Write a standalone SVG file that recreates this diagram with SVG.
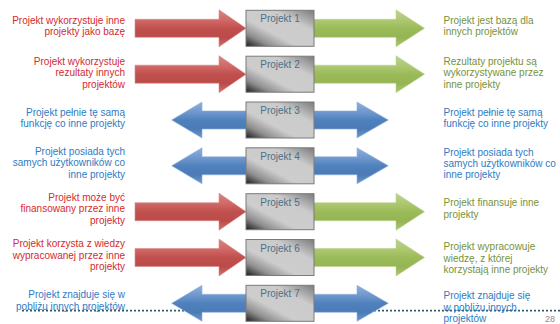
<svg xmlns="http://www.w3.org/2000/svg" width="560" height="324" viewBox="0 0 560 324">
<style>
  text { font-family: "Liberation Sans", Arial, sans-serif; font-size: 10px; }
  .lr { fill: #d42a2e; text-anchor: end; }
  .lb { fill: #2e7bc4; text-anchor: end; }
  .rg { fill: #76923c; }
  .rb { fill: #2e7bc4; }
  .box { fill: url(#gBox); stroke: #7a7a7a; stroke-width: 1; }
  .bl { fill: #4d6f88; text-anchor: middle; }
  .ar-r { fill: url(#gRed); stroke: #d98b89; stroke-width: 0.6; }
  .ar-g { fill: url(#gGreen); stroke: #bcd38f; stroke-width: 0.6; }
  .ar-b { fill: url(#gBlue); stroke: #8fb0da; stroke-width: 0.6; }
  .dots { stroke: #2e5b6e; stroke-width: 1.8; stroke-dasharray: 2 2; fill: none; }
</style>
<defs>
  <linearGradient id="gBox" x1="1" y1="0" x2="0" y2="1">
    <stop offset="0" stop-color="#7a7a7a"/>
    <stop offset="0.3" stop-color="#cbcbcb"/>
    <stop offset="0.62" stop-color="#cdcdcd"/>
    <stop offset="0.82" stop-color="#8e8e8e"/>
    <stop offset="1" stop-color="#1a1a1a"/>
  </linearGradient>
  <linearGradient id="gRed" x1="0" y1="0" x2="0" y2="1">
    <stop offset="0" stop-color="#d88583"/>
    <stop offset="0.3" stop-color="#cf6765"/>
    <stop offset="0.5" stop-color="#c0504d"/>
    <stop offset="0.75" stop-color="#bb4b48"/>
    <stop offset="1" stop-color="#cf716e"/>
  </linearGradient>
  <linearGradient id="gGreen" x1="0" y1="0" x2="0" y2="1">
    <stop offset="0" stop-color="#bdd390"/>
    <stop offset="0.3" stop-color="#abc76f"/>
    <stop offset="0.5" stop-color="#9bbb59"/>
    <stop offset="0.75" stop-color="#95b454"/>
    <stop offset="1" stop-color="#abc672"/>
  </linearGradient>
  <linearGradient id="gBlue" x1="0" y1="0" x2="0" y2="1">
    <stop offset="0" stop-color="#8eb0dc"/>
    <stop offset="0.3" stop-color="#6d96cc"/>
    <stop offset="0.5" stop-color="#4f81bd"/>
    <stop offset="0.75" stop-color="#4a7bb7"/>
    <stop offset="1" stop-color="#6f98cd"/>
  </linearGradient>
  <path id="aRed" d="M135,-9 H219 V-18.5 L246,0 L219,18.5 V9 H135 Z"/>
  <path id="aGreen" d="M300,-9 H396 V-18.5 L424.5,0 L396,18.5 V9 H300 Z"/>
  <path id="aBlue" d="M171.7,0 L202,-18 V-9 H357 V-18 L388.3,0 L357,18 V9 H202 V18 Z"/>
</defs>
<rect width="560" height="324" fill="#ffffff"/>

<line class="dots" x1="22" y1="310.7" x2="560" y2="310.7"/>

<g id="connectors">
  <use href="#aRed" class="ar-r" transform="translate(0,28.3)"/>
  <use href="#aGreen" class="ar-g" transform="translate(0,28.3)"/>
  <use href="#aRed" class="ar-r" transform="translate(0,74.2)"/>
  <use href="#aGreen" class="ar-g" transform="translate(0,74.2)"/>
  <use href="#aBlue" class="ar-b" transform="translate(0,120)"/>
  <use href="#aBlue" class="ar-b" transform="translate(0,165.8)"/>
  <use href="#aRed" class="ar-r" transform="translate(0,211.7)"/>
  <use href="#aGreen" class="ar-g" transform="translate(0,211.7)"/>
  <use href="#aRed" class="ar-r" transform="translate(0,257.5)"/>
  <use href="#aGreen" class="ar-g" transform="translate(0,257.5)"/>
  <use href="#aBlue" class="ar-b" transform="translate(0,303.3)"/>
</g>

<g id="project-1" transform="translate(0,28.3)">
  <rect class="box" x="246" y="-18" width="68" height="36"/>
  <text class="bl" x="280" y="-6">Projekt 1</text>
</g>
<g id="project-2" transform="translate(0,74.2)">
  <rect class="box" x="246" y="-18" width="68" height="36"/>
  <text class="bl" x="280" y="-6">Projekt 2</text>
</g>
<g id="project-3" transform="translate(0,120)">
  <rect class="box" x="246" y="-18" width="68" height="36"/>
  <text class="bl" x="280" y="-6">Projekt 3</text>
</g>
<g id="project-4" transform="translate(0,165.8)">
  <rect class="box" x="246" y="-18" width="68" height="36"/>
  <text class="bl" x="280" y="-6">Projekt 4</text>
</g>
<g id="project-5" transform="translate(0,211.7)">
  <rect class="box" x="246" y="-18" width="68" height="36"/>
  <text class="bl" x="280" y="-6">Projekt 5</text>
</g>
<g id="project-6" transform="translate(0,257.5)">
  <rect class="box" x="246" y="-18" width="68" height="36"/>
  <text class="bl" x="280" y="-6">Projekt 6</text>
</g>
<g id="project-7" transform="translate(0,303.3)">
  <rect class="box" x="246" y="-18" width="68" height="36"/>
  <text class="bl" x="280" y="-6">Projekt 7</text>
</g>

<g id="labels-left">
  <text class="lr" x="125" y="24.2">Projekt wykorzystuje inne</text>
  <text class="lr" x="125" y="35.4">projekty jako bazę</text>

  <text class="lr" x="125" y="64.5">Projekt wykorzystuje</text>
  <text class="lr" x="125" y="76">rezultaty innych</text>
  <text class="lr" x="125" y="87.5">projektów</text>

  <text class="lb" x="125" y="115.8">Projekt pełnie tę samą</text>
  <text class="lb" x="125" y="127">funkcję co inne projekty</text>

  <text class="lb" x="125" y="154.5">Projekt posiada tych</text>
  <text class="lb" x="125" y="166">samych użytkowników co</text>
  <text class="lb" x="125" y="177.5">inne projekty</text>

  <text class="lr" x="125" y="200.5">Projekt może być</text>
  <text class="lr" x="125" y="212.2">finansowany przez inne</text>
  <text class="lr" x="125" y="223.8">projekty</text>

  <text class="lr" x="125" y="246.8">Projekt korzysta z wiedzy</text>
  <text class="lr" x="125" y="258.5">wypracowanej przez inne</text>
  <text class="lr" x="125" y="270.2">projekty</text>

  <text class="lb" x="125" y="297.8">Projekt znajduje się w</text>
  <text class="lb" x="125" y="309.5">pobliżu innych projektów</text>
</g>

<g id="labels-right">
  <text class="rg" x="443.5" y="24.2">Projekt jest bazą dla</text>
  <text class="rg" x="443.5" y="35.4">innych projektów</text>

  <text class="rg" x="443.5" y="65">Rezultaty projektu są</text>
  <text class="rg" x="443.5" y="76.3">wykorzystywane przez</text>
  <text class="rg" x="443.5" y="88">inne projekty</text>

  <text class="rb" x="443.5" y="115.8">Projekt pełnie tę samą</text>
  <text class="rb" x="443.5" y="127">funkcję co inne projekty</text>

  <text class="rb" x="443.5" y="155.8">Projekt posiada tych</text>
  <text class="rb" x="443.5" y="166.8">samych użytkowników co</text>
  <text class="rb" x="443.5" y="177.8">inne projekty</text>

  <text class="rg" x="443.5" y="206">Projekt finansuje inne</text>
  <text class="rg" x="443.5" y="218">projekty</text>

  <text class="rg" x="443.5" y="249.5">Projekt wypracowuje</text>
  <text class="rg" x="443.5" y="261.5">wiedzę, z której</text>
  <text class="rg" x="443.5" y="273">korzystają inne projekty</text>

  <text class="rb" x="443.5" y="299">Projekt znajduje się</text>
  <text class="rb" x="443.5" y="310.5">w pobliżu innych</text>
  <text class="rb" x="443.5" y="322">projektów</text>
</g>

<text x="545" y="322" style="font-size:9px; fill:#8c8c8c;">28</text>
</svg>
